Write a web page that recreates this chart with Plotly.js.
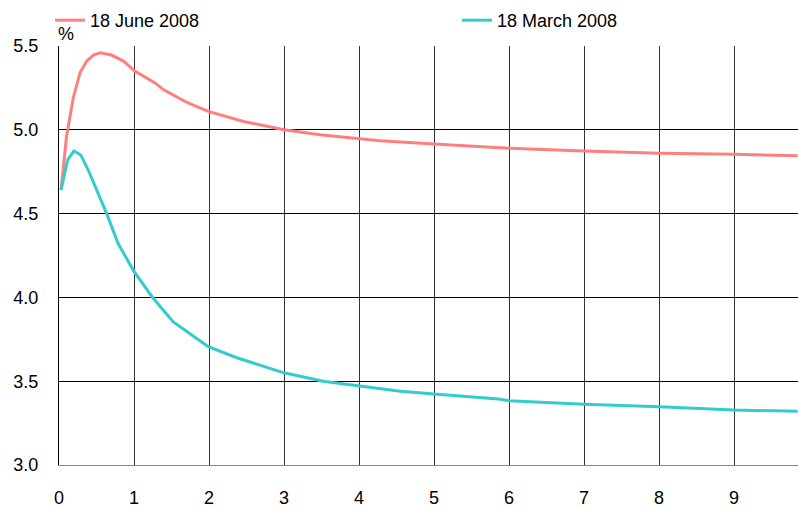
<!DOCTYPE html>
<html>
<head>
<meta charset="utf-8">
<script src="https://cdn.plot.ly/plotly-3.0.1.min.js"></script>
<style>html,body{margin:0;padding:0;background:#fff;}#chart{width:798px;height:508px;}</style>
</head>
<body>
<div id="chart"></div>
<script>
// Maturity (years) and yields (%)
const juneX = [0.027, 0.10, 0.19, 0.28, 0.37, 0.46, 0.55, 0.70, 0.86, 1.01, 1.28, 1.39, 1.72, 1.99, 2.46, 3.00, 3.48, 3.99, 4.28, 5.0, 6.0, 7.0, 8.0, 9.0, 9.85];
const juneY = [4.64, 4.96, 5.19, 5.34, 5.41, 5.446, 5.46, 5.446, 5.41, 5.35, 5.28, 5.24, 5.16, 5.11, 5.05, 5.00, 4.97, 4.945, 4.935, 4.915, 4.89, 4.873, 4.86, 4.854, 4.845];
const marchX = [0.027, 0.115, 0.20, 0.29, 0.39, 0.50, 0.636, 0.79, 1.0, 1.24, 1.52, 1.77, 1.99, 2.37, 3.0, 3.52, 3.99, 4.55, 5.0, 5.86, 6.0, 7.0, 8.0, 9.0, 9.85];
const marchY = [4.64, 4.82, 4.874, 4.85, 4.76, 4.64, 4.50, 4.32, 4.155, 4.004, 3.855, 3.776, 3.706, 3.64, 3.55, 3.50, 3.471, 3.44, 3.424, 3.394, 3.384, 3.362, 3.348, 3.328, 3.32];
const seriesNames = ['18 June 2008', '18 March 2008'];
const xTicks = [0, 1, 2, 3, 4, 5, 6, 7, 8, 9];
const yTicks = [3.0, 3.5, 4.0, 4.5, 5.0, 5.5];

const font = {family: 'Liberation Sans, Arial, sans-serif', size: 18, color: '#000'};

const traces = [
  {x: juneX, y: juneY, name: seriesNames[0], mode: 'lines', line: {color: '#FF7F7F', width: 3}, legend: 'legend'},
  {x: marchX, y: marchY, name: seriesNames[1], mode: 'lines', line: {color: '#33CCCC', width: 3}, legend: 'legend2'}
];

const legendBase = {orientation: 'h', xanchor: 'left', y: 1.105, yanchor: 'top',
                    font: font, bgcolor: 'rgba(0,0,0,0)'};

const layout = {
  width: 798, height: 508,
  margin: {l: 59, r: 0, t: 46, b: 43, pad: 0, autoexpand: false},
  paper_bgcolor: '#fff', plot_bgcolor: '#fff',
  font: font,
  showlegend: true,
  legend: Object.assign({}, legendBase, {x: -0.0122}),
  legend2: Object.assign({}, legendBase, {x: 0.5386}),
  xaxis: {range: [0, 9.853], tickvals: xTicks, ticktext: xTicks.map(String), ticks: '',
          showgrid: true, gridcolor: '#333', gridwidth: 1, zeroline: false,
          showline: true, linecolor: '#888', linewidth: 1, ticklabelstandoff: 16, tickfont: font, fixedrange: true},
  yaxis: {range: [3, 5.5], tickvals: yTicks, ticktext: yTicks.map(v => v.toFixed(1)), ticks: '',
          showgrid: true, gridcolor: '#000', gridwidth: 1, zeroline: false,
          showline: true, linecolor: '#000', linewidth: 1, ticklabelstandoff: 16, tickfont: font, fixedrange: true},
  annotations: [
    {text: '%', xref: 'paper', yref: 'paper', x: -0.004, y: 1.0, xanchor: 'left', yanchor: 'bottom',
     showarrow: false, font: font}
  ]
};

Plotly.newPlot('chart', traces, layout, {displayModeBar: false, staticPlot: true});
</script>
</body>
</html>
